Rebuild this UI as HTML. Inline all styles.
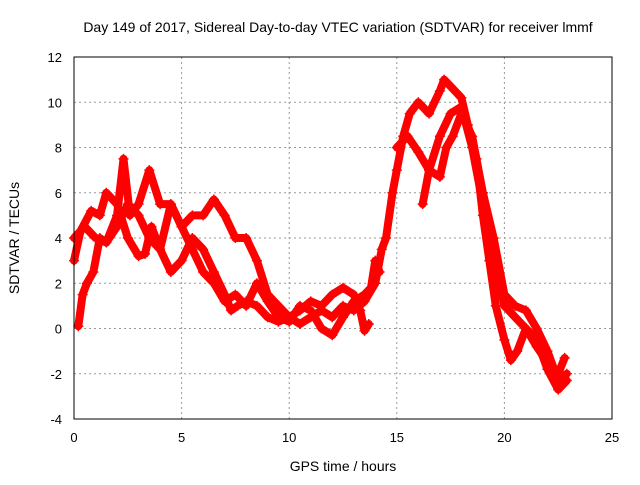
<!DOCTYPE html>
<html><head><meta charset="utf-8"><style>
body{margin:0;background:#fff;}
svg text{font-family:"Liberation Sans",sans-serif;fill:#000;}
</style></head><body>
<svg id="chart" width="640" height="480">
<text x="338" y="32" font-size="14" text-anchor="middle">Day 149 of 2017, Sidereal Day-to-day VTEC variation (SDTVAR) for receiver lmmf</text>
<text x="343" y="471" font-size="14" text-anchor="middle">GPS time / hours</text>
<text transform="translate(19,238) rotate(-90)" font-size="14" text-anchor="middle">SDTVAR / TECUs</text>
<g id="grid"></g><g id="series"></g>
<rect x="74" y="57" width="538" height="362" fill="none" stroke="#000" stroke-width="1"/>
</svg>
<script>
const xTicks=[0,5,10,15,20,25];
const yTicks=[-4,-2,0,2,4,6,8,10,12];
const trace1=[[0.2,0.1],[0.4,1.5],[0.6,2],[0.9,2.5],[1.2,4],[1.5,3.8],[2,4.5],[2.5,5.5],[3,5],[3.5,4],[4,3.5],[4.5,2.5],[5,3],[5.5,4],[6,3.5],[6.5,2.5],[7,1.5],[7.3,0.8],[7.6,1],[8,1.2],[8.5,1],[9,0.5],[9.5,0.3],[10,0.5],[10.5,0.2],[11,0.5],[11.5,0.8],[12,0.5],[12.5,1],[13,0.8],[13.5,1.2],[14,2],[14.3,3.5],[14.5,4],[14.8,6],[15,7],[15.3,8.5],[15.6,9.5],[16,10],[16.5,9.5],[17,10.5],[17.2,11],[17.5,10.7],[18,10.2],[18.3,9],[18.7,7.5],[19,5],[19.3,3],[19.6,1],[20,-0.5],[20.3,-1.4],[20.6,-1],[21,0],[21.5,-0.5],[22,-1.8],[22.5,-2.7],[22.9,-2.3]];
const trace2=[[0,4],[0.5,4.5],[1,4],[1.5,3.8],[2,5],[2.3,7.5],[2.6,5],[3,5.5],[3.5,7],[4,5.5],[4.5,5.5],[5,4.5],[5.5,5],[6,5],[6.5,5.7],[7,5],[7.5,4],[8,4],[8.5,3],[9,1.5],[9.5,1],[10,0.5],[10.5,0.8],[11,1.2],[11.5,1],[12,1.5],[12.5,1.8],[13,1.5],[13.3,0.8],[13.5,-0.1],[13.7,0.2]];
const trace3=[[16.2,5.5],[16.5,7],[17,8.5],[17.5,9.5],[18,9.8],[18.5,8],[19,5.5],[19.5,3],[20,1],[20.5,0.5],[21,0],[21.5,-0.8],[22,-1.5],[22.5,-2],[22.8,-1.3]];
const trace4=[[15,8],[15.5,8.5],[16,7.8],[16.5,7],[17,6.7],[17.3,8],[17.6,8.5],[18,9.5],[18.5,8.5],[19,6],[19.5,4],[20,1.5],[20.5,1],[21,0.8],[21.5,0],[22,-1],[22.5,-2.3],[22.9,-2]];
const trace5=[[0,3],[0.3,4.3],[0.8,5.2],[1.2,5],[1.5,6],[2,5.5],[2.5,4],[3,3.2],[3.3,3.3],[3.6,4.5],[4,3.5],[4.5,5.5],[5,4.5],[5.5,3.5],[6,2.5],[6.5,2],[7,1.2],[7.5,1.5],[8,1],[8.5,2],[9,1.2],[9.5,0.5],[10,0.3],[10.5,1],[11,0.8],[11.5,0],[12,-0.3],[12.5,0.5],[13,1.2],[13.5,1.5],[13.8,1.8],[14,3],[14.2,2.5]];
const allTraces=[trace1,trace2,trace3,trace4,trace5];
const X=v=>74+v*(538/25);
const Y=v=>419-(v+4)*(362/16);
const NS='http://www.w3.org/2000/svg';
const grid=document.getElementById('grid'),ser=document.getElementById('series');
function mk(tag,attrs,parent){const e=document.createElementNS(NS,tag);for(const k in attrs)e.setAttribute(k,attrs[k]);parent.appendChild(e);return e;}
xTicks.forEach(t=>{
  if(t>0&&t<25){const l=mk('line',{x1:X(t),x2:X(t),y1:57,y2:419,stroke:'#999','stroke-dasharray':'2,3'},grid);
  
  }
  const tx=mk('text',{x:X(t),y:442,'font-size':13,'text-anchor':'middle'},grid);tx.textContent=t;
  
  
});
yTicks.forEach(t=>{
  if(t>-4&&t<12){const l=mk('line',{x1:74,x2:612,y1:Y(t),y2:Y(t),stroke:'#999','stroke-dasharray':'2,3'},grid);
  
  }
  const tx=mk('text',{x:62,y:Y(t)+5,'font-size':13,'text-anchor':'end'},grid);tx.textContent=t;
  
  
});
allTraces.forEach((tr,i)=>{
  const g=mk('g',{},ser);
  
  
  mk('polyline',{points:tr.map(p=>X(p[0])+','+Y(p[1])).join(' '),fill:'none',stroke:'#f00','stroke-width':8,'stroke-linejoin':'round','stroke-linecap':'round'},g);
  tr.forEach(p=>{
    const m=mk('path',{d:`M${X(p[0])-5},${Y(p[1])}h10M${X(p[0])},${Y(p[1])-5}v10`,stroke:'#f00','stroke-width':1.5},g);
    
    
  });
});
</script>
</body></html>
